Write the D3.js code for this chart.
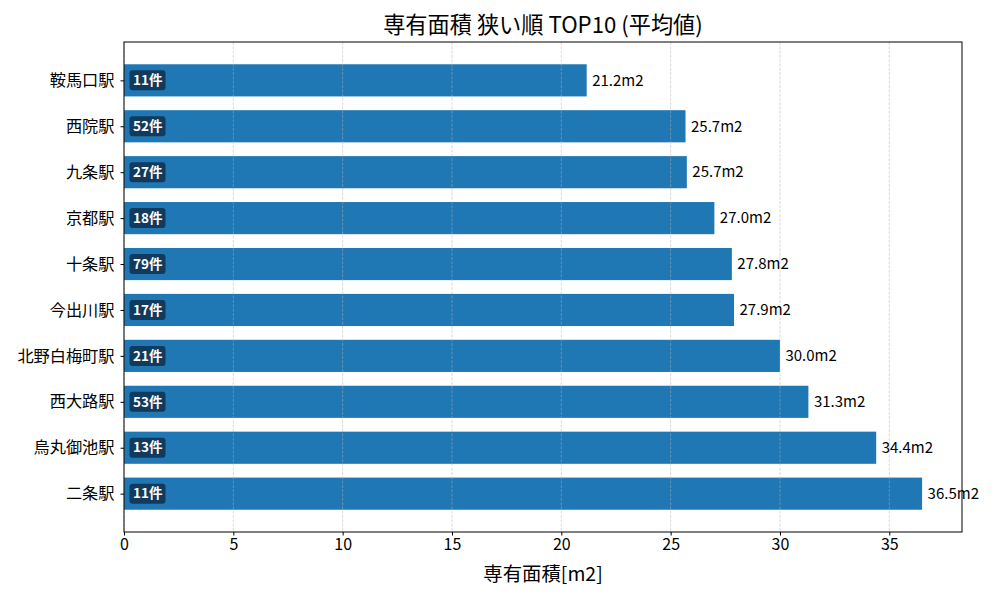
<!DOCTYPE html>
<html><head><meta charset="utf-8">
<script src="https://cdn.jsdelivr.net/npm/d3@7"></script>
<style>body{margin:0;background:#fff}svg{display:block}text{font-family:"Noto Sans CJK JP","Noto Sans",sans-serif}</style>
</head><body><svg id="c" width="1000" height="600"></svg>
<script>
const stations = ["鞍馬口駅","西院駅","九条駅","京都駅","十条駅","今出川駅","北野白梅町駅","西大路駅","烏丸御池駅","二条駅"];
const areas = [21.16, 25.68, 25.74, 27.0, 27.8, 27.9, 30.0, 31.3, 34.4, 36.5];
const counts = [11, 52, 27, 18, 79, 17, 21, 53, 13, 11];
const xTicks = [0,5,10,15,20,25,30,35];
const title = "専有面積 狭い順 TOP10 (平均値)";
const xLabel = "専有面積[m2]";

const L=124,R=962,T=42,B=532;
const svg=d3.select("#c");
const x=d3.scaleLinear().domain([0,d3.max(areas)*1.05]).range([L,R]);
const y=d3.scaleLinear().domain([-0.835,9.835]).range([T,B]);
const bh = y(0.35)-y(-0.35);
const data = stations.map((s,i)=>({s,v:areas[i],c:counts[i],i}));

svg.append("g").selectAll("rect").data(data).join("rect")
  .attr("x",x(0)).attr("y",d=>y(d.i)-bh/2).attr("width",d=>x(d.v)-x(0)).attr("height",bh)
  .attr("fill","#1f77b4");

svg.append("g").selectAll("line").data(xTicks).join("line")
  .attr("x1",d=>x(d)).attr("x2",d=>x(d)).attr("y1",T).attr("y2",B)
  .attr("stroke","#b0b0b0").attr("stroke-opacity",0.6).attr("stroke-width",0.8)
  .attr("stroke-dasharray","3,1.3");

const bg=svg.append("g").selectAll("g").data(data).join("g")
  .attr("transform",d=>`translate(${x(0)},${y(d.i)})`);
bg.append("rect").attr("x",5.5).attr("y",-10).attr("rx",3).attr("width",d=>String(d.c).length*8+20).attr("height",20)
  .attr("fill","#0f2f4d").attr("fill-opacity",0.85);
bg.append("text").attr("x",9).attr("y",0).attr("dy","0.35em").attr("fill","#fff")
  .attr("font-size",13.5).attr("font-weight","bold").text(d=>d.c+"件");

svg.append("g").selectAll("text").data(data).join("text")
  .attr("x",d=>x(d.v)+5.5).attr("y",d=>y(d.i)).attr("dy","0.35em")
  .attr("font-size",15).attr("fill","#000").text(d=>d.v.toFixed(1)+"m2");

svg.append("rect").attr("x",L).attr("y",T).attr("width",R-L).attr("height",B-T)
  .attr("fill","none").attr("stroke","#000").attr("stroke-width",1);

const xa=svg.append("g").attr("transform",`translate(0,${B})`)
  .call(d3.axisBottom(x).tickValues(xTicks).tickSize(3.5).tickPadding(3.5).tickFormat(d3.format("d")));
xa.select(".domain").remove();
xa.selectAll("text").attr("font-size",16).attr("fill","#000").style("font-family",'"Noto Sans CJK JP",sans-serif');
xa.selectAll("line").attr("stroke","#000");

const ya=svg.append("g").attr("transform",`translate(${L},0)`)
  .call(d3.axisLeft(y).tickValues(d3.range(stations.length)).tickSize(3.5).tickPadding(6).tickFormat(i=>stations[i]));
ya.select(".domain").remove();
ya.selectAll("text").attr("font-size",16.2).attr("fill","#000").style("font-family",'"Noto Sans CJK JP",sans-serif');
ya.selectAll("line").attr("stroke","#000");

svg.append("text").attr("x",(L+R)/2).attr("y",33).attr("text-anchor","middle")
  .attr("font-size",22.2).attr("fill","#000").text(title);
svg.append("text").attr("x",(L+R)/2).attr("y",581).attr("text-anchor","middle")
  .attr("font-size",19.4).attr("fill","#000").text(xLabel);
</script></body></html>
